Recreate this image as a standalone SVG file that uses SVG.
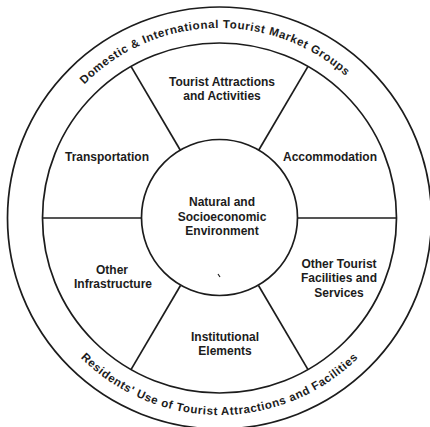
<svg xmlns="http://www.w3.org/2000/svg" width="430" height="427" viewBox="0 0 430 427">
  <style>
    .ring { fill: none; stroke: #1c1c1c; stroke-width: 1.7; }
    .spoke { stroke: #1c1c1c; stroke-width: 1.7; fill: none; }
    .lbl { font-family: "Liberation Sans", Arial, sans-serif; font-weight: bold; font-size: 12px; fill: #1c1c1c; text-anchor: middle; }
    .arc { font-family: "Liberation Sans", Arial, sans-serif; font-weight: bold; font-size: 11.5px; fill: #1c1c1c; letter-spacing: 0.6px; }
  </style>
  <defs>
    <path id="topArc" d="M 29.5 218 A 190 190 0 0 1 409.5 218"/>
    <path id="botArc" d="M 22.5 218 A 197 197 0 0 0 416.5 218"/>
  </defs>
  <rect width="430" height="427" fill="#ffffff"/>

  <g id="outer-ring">
    <ellipse class="ring" cx="219.5" cy="218" rx="212" ry="211"/>
    <text class="arc"><textPath href="#topArc" startOffset="49%" text-anchor="middle">Domestic &amp; International Tourist Market Groups</textPath></text>
    <text class="arc"><textPath href="#botArc" startOffset="50%" text-anchor="middle">Residents' Use of Tourist Attractions and Facilities</textPath></text>
  </g>

  <g id="inner-ring">
    <ellipse class="ring" cx="219.5" cy="218" rx="177" ry="175"/>
  </g>

  <g id="connectors">
    <line class="spoke" x1="297.5" y1="218" x2="396.5" y2="218"/>
    <line class="spoke" x1="141.5" y1="218" x2="42.5" y2="218"/>
    <line class="spoke" x1="258.5" y1="150.5" x2="308" y2="66.4"/>
    <line class="spoke" x1="180.5" y1="150.5" x2="131" y2="66.4"/>
    <line class="spoke" x1="180.5" y1="285.5" x2="131" y2="369.6"/>
    <line class="spoke" x1="258.5" y1="285.5" x2="308" y2="369.6"/>
  </g>

  <g id="center">
    <circle class="ring" cx="219.5" cy="217.5" r="78"/>
    <text class="lbl" x="222" y="206">Natural and</text>
    <text class="lbl" x="222" y="221">Socioeconomic</text>
    <text class="lbl" x="222" y="235">Environment</text>
    <line x1="218" y1="274" x2="220" y2="277" stroke="#1c1c1c" stroke-width="1.2"/>
  </g>

  <g id="attractions">
    <text class="lbl" x="222" y="86">Tourist Attractions</text>
    <text class="lbl" x="222" y="100">and Activities</text>
  </g>

  <g id="accommodation">
    <text class="lbl" x="330" y="161">Accommodation</text>
  </g>

  <g id="other-facilities">
    <text class="lbl" x="339" y="268">Other Tourist</text>
    <text class="lbl" x="339" y="282">Facilities and</text>
    <text class="lbl" x="339" y="297">Services</text>
  </g>

  <g id="institutional">
    <text class="lbl" x="225" y="341">Institutional</text>
    <text class="lbl" x="225" y="355">Elements</text>
  </g>

  <g id="other-infrastructure">
    <text class="lbl" x="112" y="274">Other</text>
    <text class="lbl" x="113" y="288">Infrastructure</text>
  </g>

  <g id="transportation">
    <text class="lbl" x="107" y="161">Transportation</text>
  </g>
</svg>
